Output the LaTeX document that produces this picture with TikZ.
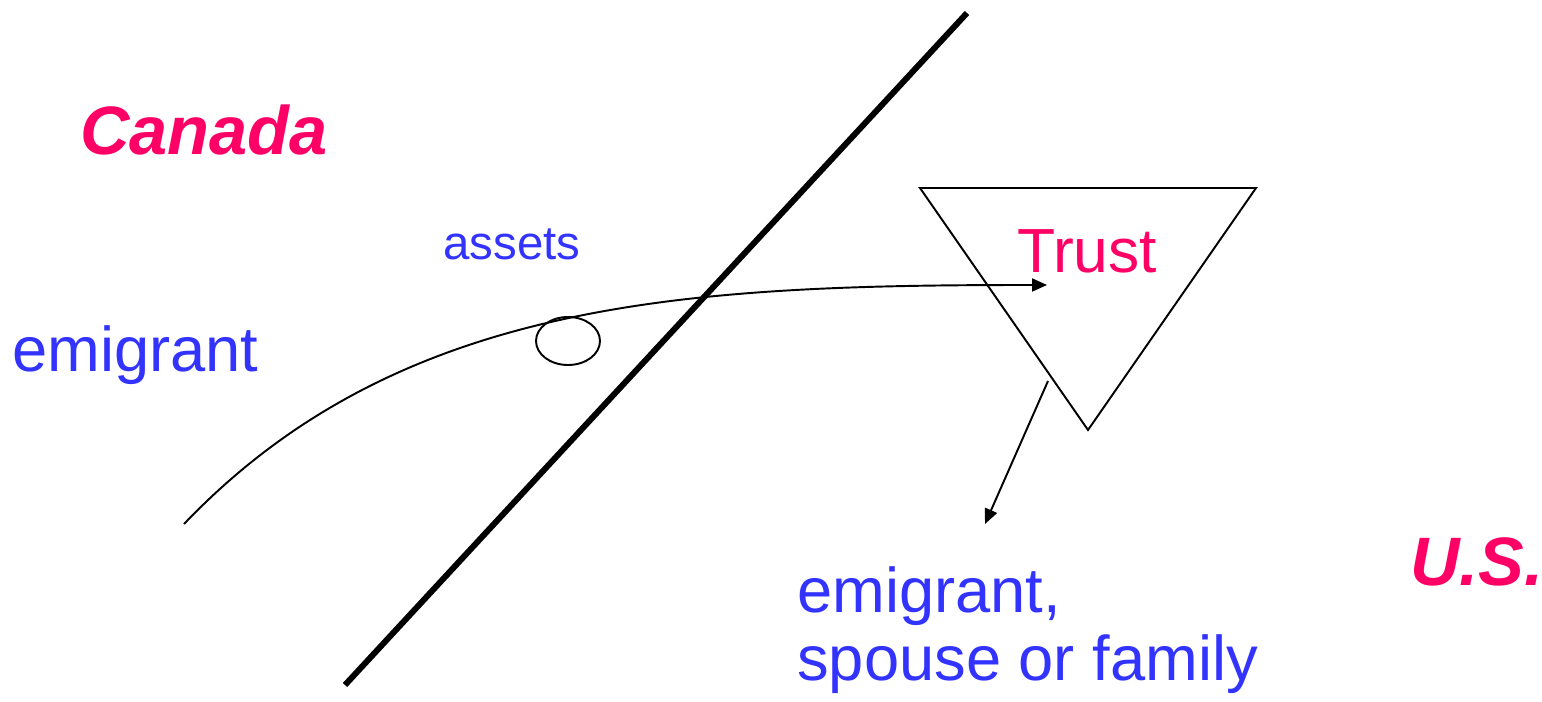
\documentclass[tikz,border=0pt]{standalone}
\usepackage{fontspec}
\setmainfont{Liberation Sans}
\usetikzlibrary{arrows.meta,positioning}
\definecolor{rose}{RGB}{255,0,102}
\definecolor{azure}{RGB}{51,51,255}
\tikzset{
  >={Triangle[length=3mm,width=2.6mm]},
  country/.style={text=rose,font=\fontsize{39}{44}\selectfont\bfseries\itshape,inner sep=0pt,anchor=base west},
  party/.style={text=azure,font=\fontsize{36}{38.7}\selectfont,inner sep=0pt,anchor=base west,align=left},
  thin/.style={line width=1.1pt},
}
\begin{document}
\begin{tikzpicture}[x=0.02cm,y=-0.02cm]
  \useasboundingbox (0,0) rectangle (1542,702);
  % border
  \coordinate (b1) at (345,685);
  \coordinate (b2) at (967,13);
  \draw[line width=3.4pt] (b1) -- (b2);
  % labels
  \node[country] (ca) at (80,155) {Canada};
  \node[country] (us) at (1410,585) {U.S.};
  \node[party] (em) at (12,372) {emigrant};
  \node[party,font=\fontsize{27}{30}\selectfont] (as) at (443,260) {assets};
  \node[party] (fam) at (797,680) {emigrant,\\spouse or family};
  % trust
  \draw[thin,line join=miter] (920,188) -- (1256,188) -- (1088,430) -- cycle;
  \node[text=rose,font=\fontsize{35.5}{40}\selectfont,inner sep=0pt,anchor=base west] (tr) at (1017,273) {Trust};
  % transfer
  \coordinate (src) at (184,524);
  \coordinate (tip) at (1047,285);
  \draw[thin,->] (src) .. controls (400,298) and (690,285) .. (tip);
  \draw[thin] (568,341) ellipse [x radius=32,y radius=24];
  \coordinate (out) at (1048,381);
  \coordinate (ben) at (985,524);
  \draw[thin,->] (out) -- (ben);
\end{tikzpicture}
\end{document}
